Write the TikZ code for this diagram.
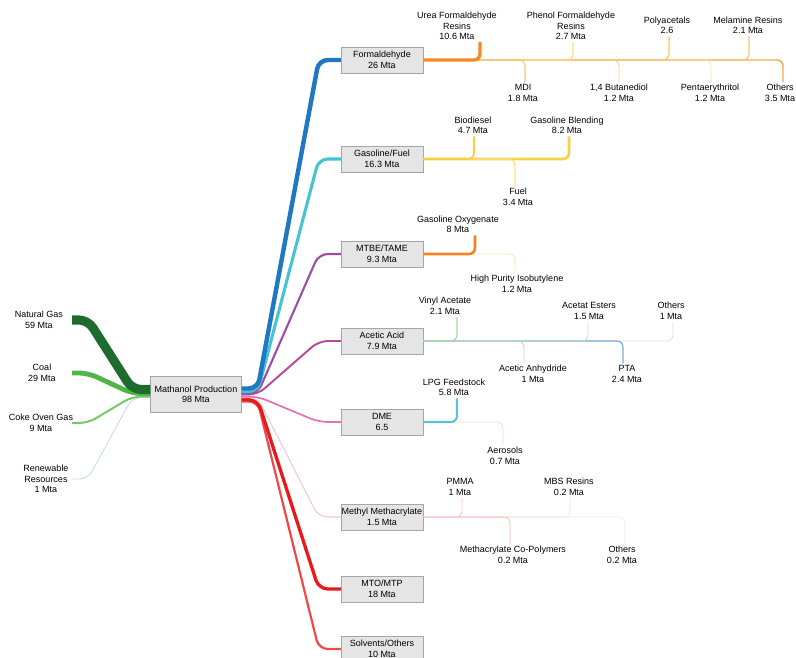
\documentclass[tikz,border=0pt]{standalone}
\usepackage{fontspec}
\setmainfont{Liberation Sans}
\usetikzlibrary{calc}
\definecolor{cng}{HTML}{1E6B2E}
\definecolor{ccoal}{HTML}{4FB548}
\definecolor{ccoke}{HTML}{7CC86A}
\definecolor{crenew}{HTML}{C7DDEE}
\definecolor{cfa}{HTML}{1F78C1}
\definecolor{cgas}{HTML}{45C3D3}
\definecolor{cmtbe}{HTML}{9A4FA3}
\definecolor{caa}{HTML}{B3489C}
\definecolor{cdme}{HTML}{EA6FAE}
\definecolor{cmma}{HTML}{F2C6CB}
\definecolor{cmto}{HTML}{E41A1C}
\definecolor{csolv}{HTML}{F04848}
\definecolor{cufr}{HTML}{F5881F}
\definecolor{cmdi}{HTML}{FBC06E}
\definecolor{cpfr}{HTML}{FDDB8C}
\definecolor{cbdo}{HTML}{FCCB85}
\definecolor{cpac}{HTML}{FBC070}
\definecolor{cpen}{HTML}{FDE2A6}
\definecolor{cmel}{HTML}{FBC27A}
\definecolor{cfao}{HTML}{F9A845}
\definecolor{cbio}{HTML}{F8CF3A}
\definecolor{cgbl}{HTML}{F9D040}
\definecolor{cfuel}{HTML}{FBE07E}
\definecolor{cgox}{HTML}{F5821F}
\definecolor{chpib}{HTML}{FDE3C0}
\definecolor{cvac}{HTML}{A8D4A4}
\definecolor{caes}{HTML}{CBE6C4}
\definecolor{caao}{HTML}{D0E4F3}
\definecolor{caan}{HTML}{B7DCB3}
\definecolor{cpta}{HTML}{7BAAD4}
\definecolor{clpg}{HTML}{5DC1D5}
\definecolor{caer}{HTML}{EBD7E7}
\definecolor{cpmma}{HTML}{F3C6CB}
\definecolor{cmbs}{HTML}{F8DCDC}
\definecolor{cmcp}{HTML}{F4B0B0}
\definecolor{cmmo}{HTML}{FAE2E2}
\tikzset{box/.style={
    draw=black!35, fill=black!10,
    minimum width=82pt, minimum height=26pt,
    align=center, inner sep=1pt
  },
  lbl/.style={align=center, inner sep=2pt},
  flow/.style={line width={(0.8+0.14*#1)*1pt}, rounded corners=9pt},
  twig/.style={line width={(0.6+0.25*#1)*1pt}, rounded corners=6pt}
}
\begin{document}
\begin{tikzpicture}[x=1pt, y=-1pt, font=\fontsize{9}{10.5}\selectfont]
    \useasboundingbox (0,0) rectangle (796,658);
    \clip (0,0) rectangle (796,658);
    \node[box, minimum width=91pt, minimum height=36pt] (mp) at (196,394.5) {Mathanol Production\\98 Mta};
    \node[box] (fa) at (382,60) {Formaldehyde\\26 Mta};
    \node[box] (gas) at (382,159) {Gasoline/Fuel\\16.3 Mta};
    \node[box] (mtbe) at (382,254) {MTBE/TAME\\9.3 Mta};
    \node[box] (aa) at (382,341) {Acetic Acid\\7.9 Mta};
    \node[box] (dme) at (382,422) {DME\\6.5};
    \node[box] (mma) at (382,517) {Methyl Methacrylate\\1.5 Mta};
    \node[box] (mto) at (382,589) {MTO/MTP\\18 Mta};
    \node[box] (solv) at (382,649) {Solvents/Others\\10 Mta};
    \foreach \n/\x/\y/\t in {ng/39/320/{Natural Gas\\59 Mta}, coal/42/373/{Coal\\29 Mta},
      coke/41/423/{Coke Oven Gas\\9 Mta}, renew/46/479/{Renewable\\Resources\\1 Mta},
      ufr/457/26/{Urea Formaldehyde\\Resins\\10.6 Mta}, pfr/571/26/{Phenol Formaldehyde\\Resins\\2.7 Mta},
      pac/667/25.5/{Polyacetals\\2.6}, mel/748/25.5/{Melamine Resins\\2.1 Mta},
      mdi/523/93/{MDI\\1.8 Mta}, bdo/619/93/{1,4 Butanediol\\1.2 Mta},
      pen/710/93/{Pentaerythritol\\1.2 Mta}, fao/780/93/{Others\\3.5 Mta},
      bio/473/125.5/{Biodiesel\\4.7 Mta}, gbl/567/125.5/{Gasoline Blending\\8.2 Mta},
      fuel/518/197/{Fuel\\3.4 Mta}, gox/458/224.5/{Gasoline Oxygenate\\8 Mta},
      hpib/517/284/{High Purity Isobutylene\\1.2 Mta}, vac/445/306/{Vinyl Acetate\\2.1 Mta},
      aes/589/311/{Acetat Esters\\1.5 Mta}, aao/671/311/{Others\\1 Mta},
      aan/533/374/{Acetic Anhydride\\1 Mta}, pta/627/374/{PTA\\2.4 Mta},
      lpg/454/387.5/{LPG Feedstock\\5.8 Mta}, aer/505/456/{Aerosols\\0.7 Mta},
      pmma/460/487/{PMMA\\1 Mta}, mbs/569/487/{MBS Resins\\0.2 Mta},
      mcp/513/555/{Methacrylate Co-Polymers\\0.2 Mta}, mmo/622/555/{Others\\0.2 Mta}}
      \node[lbl] (\n) at (\x,\y) {\t};
    \foreach \n/\dy/\v in {renew/3/1, coke/2/9, coal/-1/29, ng/-5/59}
      \draw[flow=\v, draw=c\n] (72,0 |- \n) -- ++(16,0) -- ($(mp.west)+(-18,\dy)$) -- ($(mp.west)+(0,\dy)$);
    \foreach \n/\dy/\v in {solv/7/10, mto/5/18, mma/3/1.5, dme/2/6.5, aa/0/7.9, mtbe/-1/9.3, gas/-3/16.3, fa/-6/26}
      \draw[flow=\v, draw=c\n] ($(mp.east)+(0,\dy)$) -- ++(16,0) -- ($(\n.west)+(-22,0)$) -- (\n.west);
    \foreach \n/\a/\dx/\v in {fao/north/3/3.5, mel/south/1/2.1, pen/north/1/1.2, pac/south/2/2.6,
      bdo/north/0/1.2, pfr/south/2/2.7, mdi/north/2/1.8, ufr/south/23/10.6}
      \draw[twig=\v, draw=c\n] (fa.east) -| ([xshift=\dx pt]\n.\a);
    \foreach \n/\a/\dx/\v in {gbl/south/2/8.2, fuel/north/-3/3.4, bio/south/1/4.7}
      \draw[twig=\v, draw=c\n] (gas.east) -| ([xshift=\dx pt]\n.\a);
    \foreach \n/\a/\dx/\v in {hpib/north/-2/1.2, gox/south/17/8}
      \draw[twig=\v, draw=c\n] (mtbe.east) -| ([xshift=\dx pt]\n.\a);
    \foreach \n/\a/\dx/\v in {aao/south/2/1, pta/north/-4/2.4, aes/south/-1/1.5, aan/north/-9/1, vac/south/12/2.1}
      \draw[twig=\v, draw=c\n] (aa.east) -| ([xshift=\dx pt]\n.\a);
    \foreach \n/\a/\dx/\v in {aer/north/-2/0.7, lpg/south/3/5.8}
      \draw[twig=\v, draw=c\n] (dme.east) -| ([xshift=\dx pt]\n.\a);
    \foreach \n/\a/\dx/\v in {mmo/north/3/0.2, mbs/south/1/0.2, mcp/north/-3/0.2, pmma/south/2/1}
      \draw[twig=\v, draw=c\n] (mma.east) -| ([xshift=\dx pt]\n.\a);
  \end{tikzpicture}
\end{document}
